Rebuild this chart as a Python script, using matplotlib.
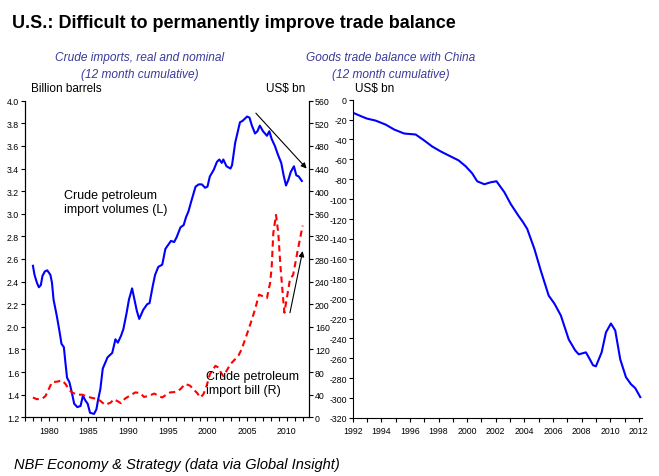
import numpy as np
import matplotlib
matplotlib.use("Agg")
import matplotlib.pyplot as plt
from matplotlib import font_manager as fm
from matplotlib.ticker import MultipleLocator, FormatStrFormatter

# Crude petroleum import volumes, billion barrels (12m cumulative)
vol_years = [1978.0, 1978.2, 1978.5, 1978.75, 1979.0, 1979.2, 1979.5, 1979.8, 1980.2, 1980.4,
             1980.6, 1981.0, 1981.3, 1981.6, 1981.9, 1982.1, 1982.3, 1982.6, 1982.9, 1983.2,
             1983.6, 1984.0, 1984.3, 1984.6, 1984.9, 1985.2, 1985.7, 1986.0, 1986.2, 1986.5,
             1986.8, 1987.1, 1987.4, 1988.0, 1988.4, 1988.7, 1989.1, 1989.4, 1989.8, 1990.1,
             1990.5, 1990.8, 1991.1, 1991.4, 1991.9, 1992.4, 1992.7, 1993.1, 1993.4, 1993.8,
             1994.3, 1994.7, 1995.1, 1995.4, 1995.8, 1996.1, 1996.6, 1997.0, 1997.3, 1997.6,
             1998.0, 1998.5, 1998.9, 1999.3, 1999.7, 2000.0, 2000.3, 2000.8, 2001.2, 2001.5,
             2001.8, 2002.0, 2002.4, 2002.9, 2003.1, 2003.5, 2003.8, 2004.1, 2004.4, 2004.7,
             2005.0, 2005.3, 2005.6, 2006.0, 2006.3, 2006.6, 2007.0, 2007.5, 2007.8, 2008.1,
             2008.5, 2008.9, 2009.3, 2009.6, 2009.9, 2010.2, 2010.5, 2010.9, 2011.2, 2011.5,
             2011.9]
vol_values = [2.54, 2.46, 2.39, 2.35, 2.37, 2.45, 2.49, 2.50, 2.46, 2.39,
              2.24, 2.10, 1.98, 1.85, 1.82, 1.68, 1.55, 1.51, 1.42, 1.32,
              1.29, 1.30, 1.39, 1.35, 1.32, 1.24, 1.23, 1.27, 1.35, 1.45,
              1.63, 1.68, 1.73, 1.77, 1.89, 1.86, 1.92, 1.98, 2.12, 2.24,
              2.34, 2.24, 2.14, 2.07, 2.15, 2.20, 2.21, 2.36, 2.46, 2.53,
              2.55, 2.69, 2.73, 2.76, 2.75, 2.79, 2.88, 2.90, 2.97, 3.02,
              3.12, 3.24, 3.26, 3.26, 3.23, 3.24, 3.33, 3.39, 3.46, 3.48,
              3.45, 3.48, 3.42, 3.40, 3.43, 3.63, 3.72, 3.81, 3.82, 3.84,
              3.86, 3.85, 3.78, 3.71, 3.73, 3.78, 3.73, 3.69, 3.73, 3.66,
              3.60, 3.52, 3.45, 3.34, 3.25, 3.30, 3.37, 3.42, 3.34, 3.33,
              3.29]

# Crude petroleum import bill, US$ bn (12m cumulative)
bill_years = [1978.0, 1978.5, 1979.2, 1979.6, 1980.0, 1980.4, 1981.0, 1981.7, 1982.1, 1982.5,
              1982.9, 1983.6, 1984.2, 1984.8, 1985.5, 1986.1, 1986.5, 1987.1, 1987.8, 1988.2,
              1988.6, 1989.1, 1989.6, 1990.3, 1990.9, 1991.5, 1992.0, 1992.6, 1993.3, 1993.8,
              1994.3, 1994.9, 1995.3, 1996.1, 1996.6, 1997.2, 1997.8, 1998.2, 1998.7, 1999.1,
              1999.5, 1999.9, 2000.3, 2001.0, 2001.4, 2001.7, 2002.0, 2002.4, 2002.9, 2003.3,
              2003.9, 2004.3, 2004.9, 2005.6, 2006.0, 2006.5, 2007.0, 2007.5, 2007.9, 2008.1,
              2008.3, 2008.64, 2008.93, 2009.2, 2009.55, 2009.7, 2010.4, 2010.8, 2011.4, 2012.0]
bill_values = [35, 32, 33, 38, 50, 62, 63, 65, 59, 50,
               44, 40, 40, 37, 34, 33, 29, 22, 26, 32,
               29, 25, 33, 39, 44, 43, 36, 38, 42, 38,
               35, 41, 44, 45, 50, 59, 56, 50, 43, 35,
               41, 56, 76, 91, 88, 79, 73, 82, 94, 100,
               109, 120, 144, 173, 191, 217, 214, 211, 238, 267,
               326, 358, 326, 267, 208, 185, 244, 252, 297, 339]

# Goods trade balance with China, US$ bn (12m cumulative)
china_years = [1992.0, 1992.65, 1993.0, 1993.6, 1994.3, 1994.9, 1995.6, 1996.4, 1997.0, 1997.55,
               1998.15, 1998.7, 1999.4, 1999.9, 2000.35, 2000.7, 2001.2, 2001.65, 2002.05, 2002.6,
               2003.05, 2003.6, 2003.9, 2004.2, 2004.7, 2005.15, 2005.7, 2006.1, 2006.55, 2007.1,
               2007.55, 2007.8, 2008.3, 2008.5, 2008.8, 2009.0, 2009.4, 2009.7, 2010.05, 2010.35,
               2010.7, 2011.1, 2011.45, 2011.75, 2012.1]
china_values = [-13, -17, -19, -21, -25, -30, -34, -35, -41, -47,
                -52, -56, -61, -67, -74, -82, -85, -83, -82, -93,
                -105, -117, -123, -130, -150, -172, -197, -205, -217, -241,
                -252, -256, -254, -259, -267, -268, -254, -234, -225, -232,
                -261, -279, -286, -290, -299]

plt.rcParams["font.family"] = ["Liberation Sans", "DejaVu Sans"]
plt.rcParams["axes.unicode_minus"] = False

# narrow font if available, otherwise shrink the regular one
installed = {f.name for f in fm.fontManager.ttflist}
if "Liberation Sans Narrow" in installed:
    narrow = ["Liberation Sans Narrow", "Liberation Sans"]
    shrink = 1.0
else:
    narrow = ["Liberation Sans", "DejaVu Sans"]
    shrink = 0.88

W, H = 659, 477
fig = plt.figure(figsize=(W / 100, H / 100), dpi=100)


def fx(px):
    return px / W


def fy(py):
    return 1 - py / H


def style_ticks(ax, axis="both"):
    ax.tick_params(axis=axis, which="both", direction="out", length=3, width=0.8,
                   labelsize=7.2 * shrink, pad=1.2)
    ax.tick_params(axis="x", pad=3)
    for lab in ax.get_xticklabels() + ax.get_yticklabels():
        lab.set_family(narrow)


# ---- left chart: crude imports ----
ax1 = fig.add_axes([fx(25), fy(418.3), fx(309 - 25), (418.3 - 101.7) / H])
ax1.plot(vol_years, vol_values, color="#0000ff", lw=1.5)
ax1.set_xlim(1977, 2012.8)
ax1.set_ylim(1.2, 4.0)
ax1.yaxis.set_major_locator(MultipleLocator(0.2))
ax1.yaxis.set_major_formatter(FormatStrFormatter("%.1f"))
ax1.xaxis.set_major_locator(MultipleLocator(5))
ax1.xaxis.set_minor_locator(MultipleLocator(1))
ax1.spines["top"].set_visible(False)
for s in ax1.spines.values():
    s.set_linewidth(0.8)

ax2 = ax1.twinx()
ax2.plot(bill_years, bill_values, color="#ff0000", lw=1.5, ls=(0, (3, 2)))
ax2.set_ylim(0, 560)
ax2.yaxis.set_major_locator(MultipleLocator(40))
ax2.spines["top"].set_visible(False)
for s in ax2.spines.values():
    s.set_linewidth(0.8)

style_ticks(ax1)
style_ticks(ax2, "y")

fig.text(fx(64), fy(190), "Crude petroleum\nimport volumes (L)", fontsize=9,
         va="top", ha="left", linespacing=1.25)
fig.text(fx(206), fy(371), "Crude petroleum\nimport bill (R)", fontsize=9,
         va="top", ha="left", linespacing=1.25)

ax1.annotate("", xy=(2012.5, 3.40), xytext=(2006.1, 3.89),
             arrowprops=dict(arrowstyle="-|>", color="black", lw=0.8,
                             mutation_scale=8, shrinkA=0, shrinkB=0))
ax2.annotate("", xy=(2012.0, 294), xytext=(2010.4, 185),
             arrowprops=dict(arrowstyle="-|>", color="black", lw=0.8,
                             mutation_scale=8, shrinkA=0, shrinkB=0))

fig.text(fx(31), fy(92), "Billion barrels", fontsize=8.5, va="baseline", ha="left")
fig.text(fx(305), fy(92), "US$ bn", fontsize=8.5, va="baseline", ha="right")

# ---- right chart: China trade balance ----
ax3 = fig.add_axes([fx(352.7), fy(419), fx(641.7 - 352.7), (419 - 100.7) / H])
ax3.plot(china_years, china_values, color="#0000ff", lw=1.5)
ax3.set_xlim(1992, 2012.2)
ax3.set_ylim(-320, 0)
ax3.yaxis.set_major_locator(MultipleLocator(20))
ax3.xaxis.set_major_locator(MultipleLocator(2))
ax3.xaxis.set_minor_locator(MultipleLocator(1))
ax3.spines["top"].set_visible(False)
ax3.spines["right"].set_visible(False)
for s in ax3.spines.values():
    s.set_linewidth(0.8)
style_ticks(ax3)
fig.text(fx(355), fy(92), "US$ bn", fontsize=8.5, va="baseline", ha="left")

# ---- titles ----
fig.text(fx(12), fy(28), "U.S.: Difficult to permanently improve trade balance",
         fontsize=13, fontweight="bold", va="baseline", ha="left")
sub_color = "#3a3a9a"
sub_kw = dict(fontsize=9.5 * 0.9, style="italic", family=narrow, color=sub_color,
              ha="center", va="baseline")
fig.text(fx(140), fy(61), "Crude imports, real and nominal", **sub_kw)
fig.text(fx(140), fy(78), "(12 month cumulative)", **sub_kw)
fig.text(fx(391), fy(61), "Goods trade balance with China", **sub_kw)
fig.text(fx(391), fy(78), "(12 month cumulative)", **sub_kw)

fig.text(fx(14), fy(469), "NBF Economy & Strategy (data via Global Insight)",
         fontsize=10.5, style="italic", va="baseline", ha="left")

fig.savefig("out.png", dpi=100)
